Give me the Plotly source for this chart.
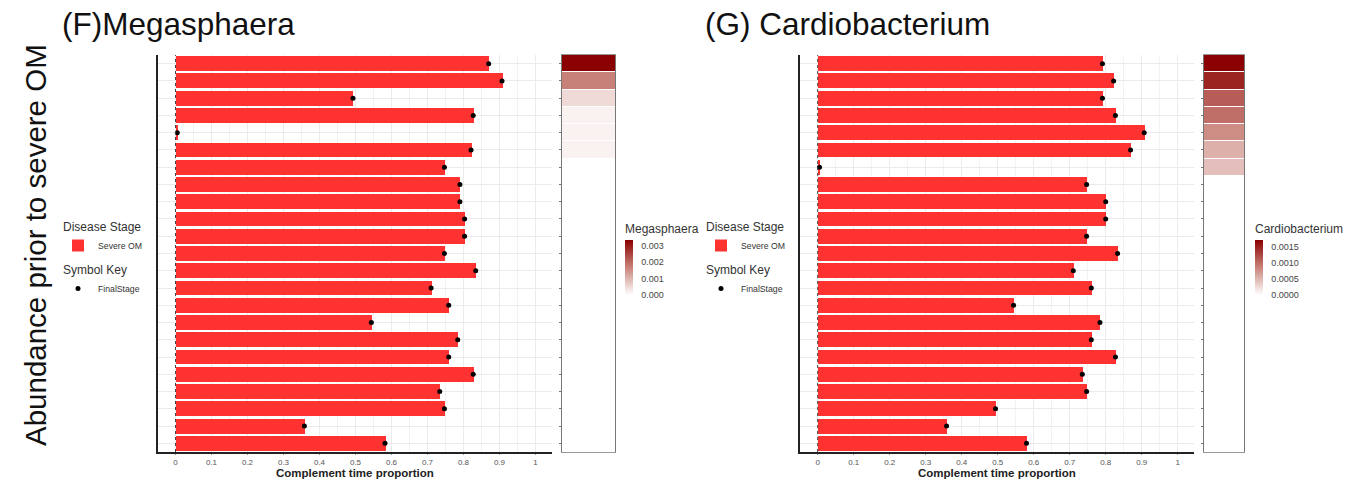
import plotly.graph_objects as go

W, H = 1358, 481

# Patients (rows, top to bottom)
rows = list(range(1, 24))

# Complement time proportion per patient
meg_prop = [0.870, 0.907, 0.493, 0.827, 0.005, 0.821, 0.747, 0.790, 0.790, 0.803,
            0.803, 0.747, 0.834, 0.710, 0.759, 0.544, 0.784, 0.759, 0.827, 0.734,
            0.747, 0.358, 0.582]
cardio_prop = [0.791, 0.822, 0.791, 0.827, 0.907, 0.869, 0.005, 0.747, 0.800, 0.800,
               0.747, 0.833, 0.710, 0.760, 0.544, 0.784, 0.760, 0.827, 0.735, 0.747,
               0.494, 0.358, 0.580]

# Relative abundance prior to severe OM
meg_abund = [0.00336, 0.00170, 0.00050, 0.00018, 0.00018, 0.00018] + [0.0] * 17
cardio_abund = [0.00173, 0.00150, 0.00112, 0.00100, 0.00080, 0.00055, 0.00045] + [0.0] * 16

meg_ticks = [0.0, 0.001, 0.002, 0.003]
meg_ticktext = ["0.000", "0.001", "0.002", "0.003"]
cardio_ticks = [0.0, 0.0005, 0.0010, 0.0015]
cardio_ticktext = ["0.0000", "0.0005", "0.0010", "0.0015"]

x_ticks = [0, 0.1, 0.2, 0.3, 0.4, 0.5, 0.6, 0.7, 0.8, 0.9, 1.0]
x_ticktext = ["0", "0.1", "0.2", "0.3", "0.4", "0.5", "0.6", "0.7", "0.8", "0.9", "1"]

BAR_RED = "#FF3232"
FONT = "Liberation Sans, Arial, sans-serif"
XRANGE = [-0.05, 1.045]
PX_PER_UNIT = 360.0


def px_x(p):
    return p / W


def px_y(p):
    return 1 - p / H


def dom_for(zero_px):
    left = zero_px + XRANGE[0] * PX_PER_UNIT
    right = zero_px + XRANGE[1] * PX_PER_UNIT
    return [px_x(left), px_x(right)]


top_px, bot_px = 55, 452
ydom = [px_y(bot_px), px_y(top_px)]

fig = go.Figure()

panels = [
    dict(prop=meg_prop, abund=meg_abund, name="Megasphaera", zero=175.5,
         strip=(562, 615), cb_x=625, cb_ticks=meg_ticks, cb_text=meg_ticktext,
         cb_max=0.00336, legend="legend", xa="x", ya="y", hx="x2", hy="y2"),
    dict(prop=cardio_prop, abund=cardio_abund, name="Cardiobacterium", zero=817.7,
         strip=(1204, 1244), cb_x=1255, cb_ticks=cardio_ticks, cb_text=cardio_ticktext,
         cb_max=0.00173, legend="legend2", xa="x3", ya="y3", hx="x4", hy="y4"),
]

colorscale = [[0.0, "#ffffff"], [0.5, "#c9837a"], [1.0, "#8b0000"]]

for p in panels:
    fig.add_trace(go.Bar(
        x=p["prop"], y=rows, orientation="h", width=0.86,
        marker=dict(color=BAR_RED, line=dict(width=0)),
        name="Severe OM", legend=p["legend"], legendgroup="stage" + p["legend"],
        legendgrouptitle=dict(text="Disease Stage", font=dict(size=12, color="#333")),
        xaxis=p["xa"], yaxis=p["ya"], hoverinfo="skip"))
    fig.add_trace(go.Scatter(
        x=p["prop"], y=rows, mode="markers",
        marker=dict(color="black", size=5),
        name="FinalStage", legend=p["legend"], legendgroup="sym" + p["legend"],
        legendgrouptitle=dict(text="Symbol Key", font=dict(size=12, color="#333")),
        xaxis=p["xa"], yaxis=p["ya"], hoverinfo="skip"))
    fig.add_trace(go.Heatmap(
        z=[[v] for v in p["abund"]], x=[0], y=rows,
        colorscale=colorscale, zmin=0, zmax=p["cb_max"], ygap=1,
        xaxis=p["hx"], yaxis=p["hy"], hoverinfo="skip",
        colorbar=dict(
            x=px_x(p["cb_x"]), xanchor="left", xpad=0, ypad=0,
            y=px_y(258), yanchor="middle", lenmode="pixels", len=74,
            thickness=8, thicknessmode="pixels", outlinewidth=0,
            tickvals=p["cb_ticks"], ticktext=p["cb_text"],
            ticks="outside", ticklen=7, tickcolor="white",
            tickfont=dict(size=9, color="#444", family=FONT),
            title=dict(text=p["name"], side="top", font=dict(size=12, color="#333", family=FONT)),
        )))

layout = dict(
    width=W, height=H, margin=dict(l=0, r=0, t=0, b=0),
    paper_bgcolor="white", plot_bgcolor="white",
    font=dict(family=FONT, color="#333"),
    bargap=0, showlegend=True,
)

for p in panels:
    xa_key = "xaxis" + p["xa"][1:]
    ya_key = "yaxis" + p["ya"][1:]
    hx_key = "xaxis" + p["hx"][1:]
    hy_key = "yaxis" + p["hy"][1:]
    layout[xa_key] = dict(
        domain=dom_for(p["zero"]), range=XRANGE, anchor=p["ya"],
        tickvals=x_ticks, ticktext=x_ticktext,
        tickfont=dict(size=8, color="#555"), ticks="outside", ticklen=1, tickcolor="#999",
        showgrid=True, gridcolor="#ebebeb", gridwidth=1,
        minor=dict(dtick=0.05, tick0=0, showgrid=True, gridcolor="#f2f2f2"),
        showline=True, linecolor="#222", linewidth=2, zeroline=False)
    layout[ya_key] = dict(
        domain=ydom, range=[23.5, 0.5], anchor=p["xa"],
        tickvals=rows, showticklabels=False, ticks="",
        showgrid=True, gridcolor="#ebebeb",
        showline=True, linecolor="#222", linewidth=2, zeroline=False)
    s0, s1 = p["strip"]
    layout[hx_key] = dict(
        domain=[px_x(s0), px_x(s1)], range=[-0.5, 0.5], anchor=p["hy"],
        showticklabels=False, ticks="", showgrid=False, zeroline=False,
        showline=True, mirror=True, linecolor="#999", linewidth=1)
    layout[hy_key] = dict(
        domain=ydom, range=[23.5, 0.5], anchor=p["hx"],
        showticklabels=False, ticks="outside", ticklen=2, tickcolor="#777",
        tickvals=rows, showgrid=False, zeroline=False,
        showline=True, mirror=True, linecolor="#777", linewidth=1)

legend_common = dict(
    xanchor="left", yanchor="top", bgcolor="rgba(0,0,0,0)",
    font=dict(size=8.7, color="#333", family=FONT), tracegroupgap=5,
    itemwidth=30, traceorder="grouped")
layout["legend"] = dict(x=px_x(58), y=px_y(212), **legend_common)
layout["legend2"] = dict(x=px_x(701), y=px_y(212), **legend_common)

fig.update_layout(**layout)

# dashed baseline at x = 0 in each bar panel
for p in panels:
    fig.add_shape(type="line", xref=p["xa"], yref="paper", x0=0, x1=0,
                  y0=ydom[0], y1=ydom[1], line=dict(color="#444", width=1, dash="dot"))

# panel titles, shared y title, x titles
fig.add_annotation(text="(F)Megasphaera", x=px_x(60), y=px_y(24), xref="paper", yref="paper",
                   xanchor="left", yanchor="middle", showarrow=False,
                   font=dict(size=31.5, color="#111", family=FONT))
fig.add_annotation(text="(G) Cardiobacterium", x=px_x(703), y=px_y(24), xref="paper", yref="paper",
                   xanchor="left", yanchor="middle", showarrow=False,
                   font=dict(size=31.5, color="#111", family=FONT))
fig.add_annotation(text="Abundance prior to severe OM", x=px_x(35), y=px_y(245),
                   xref="paper", yref="paper", textangle=-90, showarrow=False,
                   xanchor="center", yanchor="middle",
                   font=dict(size=29.5, color="#111", family=FONT))
for p in panels:
    d = dom_for(p["zero"])
    fig.add_annotation(text="<b>Complement time proportion</b>", x=(d[0] + d[1]) / 2,
                       y=px_y(473), xref="paper", yref="paper", showarrow=False,
                       xanchor="center", yanchor="middle",
                       font=dict(size=11.5, color="#222", family=FONT))

fig.write_html("out.html")
